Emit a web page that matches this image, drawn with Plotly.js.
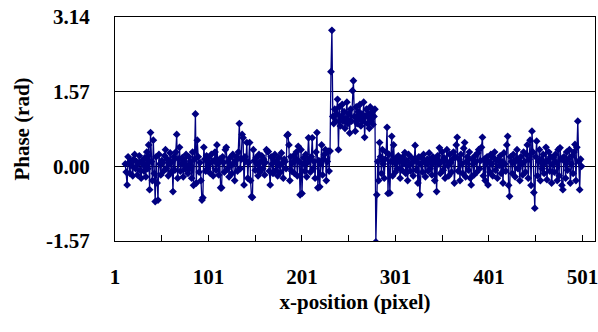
<!DOCTYPE html>
<html>
<head>
<meta charset="utf-8">
<script src="https://cdn.plot.ly/plotly-3.0.1.min.js"></script>
<style>html,body{margin:0;padding:0;background:#fff;}#chart{width:598px;height:332px;}</style>
</head>
<body>
<div id="chart"></div>
<script>
// first pixel position of the measured series
const startPixel = 12;
// phase values (rad), one per pixel, from x = 12 to x = 500
const phase = [
 0.05,-0.12,-0.39,0.20,0.08,-0.15,0.12,0.02,-0.20,0.15,
 0.25,-0.05,0.10,-0.18,0.06,0.22,-0.08,-0.25,0.12,0.04,
 -0.10,0.18,-0.22,0.30,-0.05,0.45,-0.49,0.71,0.10,-0.30,
 0.55,-0.15,-0.74,0.20,-0.35,-0.71,0.25,0.05,-0.18,0.12,
 0.08,-0.10,0.22,0.35,-0.05,0.15,-0.20,0.06,0.28,-0.12,
 0.10,-0.53,0.20,-0.08,0.30,0.67,-0.25,0.15,0.40,-0.10,
 0.05,0.18,-0.22,0.12,-0.06,0.25,0.02,-0.15,0.20,-0.05,
 0.10,-0.25,0.30,-0.40,0.15,1.10,-0.35,0.55,0.20,-0.12,
 0.08,-0.30,-0.71,-0.66,0.40,0.15,-0.10,0.22,-0.05,0.18,
 0.06,-0.15,0.25,0.10,-0.20,0.12,0.30,-0.08,0.45,0.05,
 -0.18,0.15,-0.45,-0.45,0.20,0.08,-0.12,0.35,0.40,-0.06,
 0.10,-0.22,0.18,0.02,-0.15,0.25,0.06,-0.30,0.12,0.20,
 -0.10,0.30,0.90,-0.05,0.15,0.67,0.60,-0.39,0.20,0.10,
 0.50,-0.25,0.08,0.50,-0.30,-0.64,-0.65,0.35,0.12,-0.08,
 0.18,0.05,-0.20,0.25,-0.12,0.10,0.22,-0.05,0.15,-0.18,
 0.08,0.35,0.31,0.31,-0.10,-0.39,0.20,0.05,-0.15,0.12,
 0.25,-0.08,0.10,-0.20,0.18,0.02,-0.12,0.28,0.06,-0.25,
 0.15,0.10,-0.05,0.65,0.67,0.45,-0.30,0.20,-0.10,0.08,
 0.22,-0.15,0.12,0.30,-0.20,0.42,0.10,-0.60,0.35,-0.57,
 0.05,0.18,-0.10,0.25,-0.22,0.08,0.60,0.15,-0.12,0.20,
 0.60,-0.05,0.10,-0.25,0.30,0.71,-0.45,0.12,-0.43,0.06,
 0.45,-0.18,0.15,0.25,0.35,-0.30,0.10,0.32,-0.10,0.32,
 1.99,2.86,1.05,0.90,1.20,0.95,1.10,1.41,0.35,1.25,
 0.85,1.05,1.30,0.95,1.15,0.80,1.00,1.35,0.90,1.10,
 0.70,1.20,0.95,1.59,1.80,1.05,0.74,1.25,0.90,1.15,
 1.00,1.30,0.85,1.10,0.95,1.35,0.61,1.05,1.20,0.90,
 1.10,0.80,1.25,0.95,1.15,0.88,1.05,1.20,-1.59,-0.60,
 0.10,-0.30,0.50,0.20,-0.15,0.35,0.05,-0.25,0.15,0.30,
 0.82,-0.57,0.25,-0.56,0.10,0.63,-0.20,0.45,0.08,-0.12,
 0.18,-0.05,0.22,0.10,-0.25,0.15,-0.08,0.20,0.05,0.29,
 -0.15,0.12,-0.30,0.25,0.02,-0.10,0.18,0.08,-0.20,0.15,
 0.44,-0.08,0.10,-0.35,0.20,-0.60,0.05,0.18,-0.12,0.25,
 0.10,-0.22,0.06,0.15,-0.10,0.28,-0.05,0.12,-0.18,0.20,
 0.08,-0.30,0.15,-0.53,0.22,0.05,0.39,-0.15,0.10,0.30,
 -0.08,0.18,-0.25,0.12,0.35,0.02,-0.20,0.25,0.08,-0.12,
 0.15,0.30,-0.35,0.20,0.45,0.61,-0.10,0.15,-0.30,0.25,
 0.05,-0.15,0.38,0.50,-0.22,0.10,0.20,-0.08,0.30,-0.25,
 -0.39,0.15,0.05,-0.18,0.22,0.10,-0.12,0.28,0.35,-0.05,
 0.12,0.40,0.61,-0.20,0.15,-0.30,0.08,0.20,-0.39,0.10,
 -0.12,0.25,0.05,-0.20,0.18,0.30,-0.08,0.12,-0.25,0.15,
 0.02,0.22,-0.15,0.10,-0.35,0.28,0.05,-0.10,0.45,0.63,
 -0.40,-0.63,0.20,0.10,-0.15,0.25,0.08,-0.22,0.15,0.35,
 -0.05,0.12,-0.30,0.20,0.05,-0.18,0.30,0.10,-0.12,0.25,
 0.45,-0.25,0.15,0.55,-0.40,0.74,0.30,-0.55,-0.88,0.20,
 0.53,-0.20,0.10,0.35,-0.30,0.15,-0.05,0.25,-0.15,0.08,
 0.40,-0.28,0.12,0.30,-0.10,0.20,-0.35,0.05,0.18,-0.12,
 0.25,0.08,-0.30,0.35,-0.20,0.39,0.15,-0.40,-0.49,0.20,
 0.10,-0.25,0.30,-0.08,0.15,0.35,-0.35,0.05,0.22,-0.15,
 0.30,0.46,-0.30,0.40,0.95,0.10,-0.49,0.15,0.00
];
const xTickVals = [1,51,101,151,201,251,301,351,401,451,501];
const xTickText = ['1','','101','','201','','301','','401','','501'];
const yTickVals = [-1.57,0,1.57,3.14];
const yTickText = ['-1.57','0.00','1.57','3.14'];

const pixels = phase.map((_, i) => startPixel + i);
const font = {family: 'Liberation Serif, Times New Roman, serif', size: 21, color: '#000', weight: 700};

Plotly.newPlot('chart', [{
  x: pixels, y: phase, type: 'scatter', mode: 'lines+markers',
  line: {color: '#000080', width: 1.3},
  marker: {symbol: 'diamond', size: 6, color: '#000080'},
  cliponaxis: true
}], {
  width: 598, height: 332,
  margin: {l: 115, r: 3, t: 17, b: 91},
  paper_bgcolor: '#fff', plot_bgcolor: '#fff',
  showlegend: false,
  font: font,
  xaxis: {
    range: [1, 514.4], tickmode: 'array', tickvals: xTickVals, ticktext: xTickText,
    ticks: 'inside', ticklen: 6, tickcolor: '#000', tickwidth: 1,
    showgrid: false, zeroline: false, showline: true, linecolor: '#000', linewidth: 1, mirror: true,
    tickfont: font, ticklabelstandoff: 17, ticklabeloverflow: 'allow',
    title: {text: 'x-position (pixel)', font: font, standoff: 6}
  },
  yaxis: {
    range: [-1.57, 3.14], tickmode: 'array', tickvals: yTickVals, ticktext: yTickText,
    ticks: '', showgrid: true, gridcolor: '#000', gridwidth: 1, zeroline: false,
    showline: true, linecolor: '#000', linewidth: 1, mirror: true,
    tickfont: font, ticklabelstandoff: 20, ticklabeloverflow: 'allow',
    title: {text: 'Phase (rad)', font: font, standoff: 10}
  }
}, {displayModeBar: false, staticPlot: true});
</script>
</body>
</html>
